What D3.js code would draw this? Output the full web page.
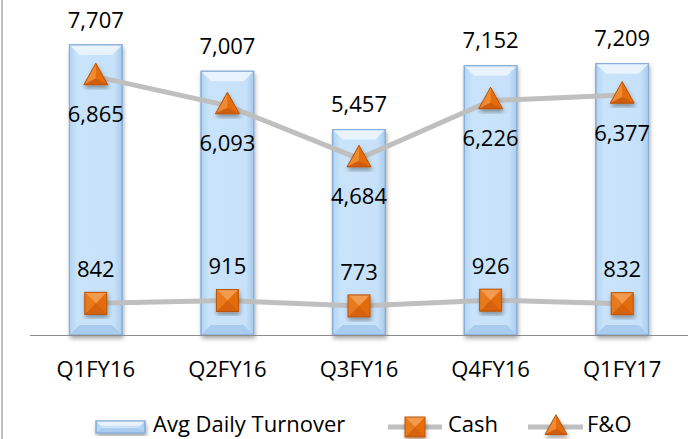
<!DOCTYPE html>
<html>
<head>
<meta charset="utf-8">
<script src="https://cdn.jsdelivr.net/npm/d3@7"></script>
<style>
  body { margin: 0; background: #fff; }
  svg { display: block; font-family: "Open Sans", sans-serif; }
</style>
</head>
<body>
<svg id="chart" width="688" height="439"></svg>
<script>
/* data */
const quarters = ["Q1FY16", "Q2FY16", "Q3FY16", "Q4FY16", "Q1FY17"]
const turnover = [7707, 7007, 5457, 7152, 7209]
const cash = [842, 915, 773, 926, 832]
const fno = [6865, 6093, 4684, 6226, 6377]

const svg = d3.select("#chart")
const W = 688, H = 439
const baseY = 335

const x = d3.scaleBand()
    .domain(quarters)
    .range([30, 688])
    .paddingInner(0.6)
    .paddingOuter(0.3)

const y = d3.scaleLinear()
    .domain([0, 8900])
    .range([baseY, 0])

const fmt = d3.format(",")
const orange = "#e46c0a"

/* defs: gradients and shadows */
const defs = svg.append("defs")

const barGrad = defs.append("linearGradient").attr("id", "barGrad")
    .attr("x1", 0).attr("x2", 1).attr("y1", 0).attr("y2", 0)
barGrad.append("stop").attr("offset", "0%").attr("stop-color", "#b3d4f2")
barGrad.append("stop").attr("offset", "15%").attr("stop-color", "#c9e3fa")
barGrad.append("stop").attr("offset", "85%").attr("stop-color", "#c6e1f9")
barGrad.append("stop").attr("offset", "100%").attr("stop-color", "#a9cbec")

const shadow = defs.append("filter").attr("id", "shadow")
    .attr("x", "-30%").attr("y", "-10%").attr("width", "160%").attr("height", "130%")
shadow.append("feDropShadow").attr("dx", 1).attr("dy", 3).attr("stdDeviation", 2)
    .attr("flood-color", "#000").attr("flood-opacity", 0.35)

/* left border */
svg.append("line")
    .attr("x1", 2).attr("x2", 2).attr("y1", 0).attr("y2", H)
    .attr("stroke", "#bfbfbf").attr("stroke-width", 2)

/* bars */
function drawBar(g, x0, y0, w, h) {
    const b = Math.min(10, w / 5, h / 2.5)
    g.append("rect")
        .attr("x", x0).attr("y", y0).attr("width", w).attr("height", h)
        .attr("fill", "url(#barGrad)")
        .attr("stroke", "#8eb4de").attr("stroke-width", 1)
        .attr("filter", "url(#shadow)")
    // top bevel
    g.append("path")
        .attr("d", `M${x0},${y0}L${x0 + w},${y0}L${x0 + w - b},${y0 + b}L${x0 + b},${y0 + b}Z`)
        .attr("fill", "#e8f3fd")
    // bottom bevel
    g.append("path")
        .attr("d", `M${x0},${y0 + h}L${x0 + w},${y0 + h}L${x0 + w - b},${y0 + h - b}L${x0 + b},${y0 + h - b}Z`)
        .attr("fill", "#a8cbee")
    g.append("rect")
        .attr("x", x0).attr("y", y0).attr("width", w).attr("height", h)
        .attr("fill", "none")
        .attr("stroke", "#86acd8").attr("stroke-width", 1.2)
}

const bars = svg.append("g")
quarters.forEach((q, i) => {
    drawBar(bars.append("g"), x(q), y(turnover[i]), x.bandwidth(), baseY - y(turnover[i]))
})

/* axis baseline */
svg.append("line")
    .attr("x1", 30).attr("x2", W).attr("y1", baseY + 0.5).attr("y2", baseY + 0.5)
    .attr("stroke", "#8c8c8c").attr("stroke-width", 1)

/* category labels */
const xAxis = svg.append("g")
    .attr("transform", `translate(0,${baseY})`)
    .call(d3.axisBottom(x).tickSize(0).tickPadding(26))
xAxis.select(".domain").remove()
xAxis.selectAll("text")
    .attr("font-size", 22).attr("font-family", "Open Sans").attr("fill", "#000")

/* markers */
function square(g, cx, cy, s) {
    const h = s / 2
    const m = g.append("g").attr("filter", "url(#shadow)")
    m.append("rect").attr("x", cx - h).attr("y", cy - h).attr("width", s).attr("height", s).attr("fill", orange)
    m.append("path").attr("d", `M${cx - h},${cy - h}L${cx + h},${cy - h}L${cx},${cy}Z`).attr("fill", "#f29b4f")
    m.append("path").attr("d", `M${cx - h},${cy + h}L${cx + h},${cy + h}L${cx},${cy}Z`).attr("fill", "#d7620a")
    m.append("path").attr("d", `M${cx - h},${cy - h}L${cx - h},${cy + h}L${cx},${cy}Z`).attr("fill", "#e87a1e")
    m.append("rect").attr("x", cx - h).attr("y", cy - h).attr("width", s).attr("height", s)
        .attr("fill", "none").attr("stroke", "#b85207").attr("stroke-width", 1)
}

function triangle(g, cx, cy, s) {
    const h = s * 0.9
    const top = cy - h * 0.62, bot = cy + h * 0.38
    const m = g.append("g").attr("filter", "url(#shadow)")
    m.append("path").attr("d", `M${cx},${top}L${cx + s / 2},${bot}L${cx - s / 2},${bot}Z`).attr("fill", orange)
    m.append("path").attr("d", `M${cx},${top}L${cx - s / 2},${bot}L${cx},${cy + 2}Z`).attr("fill", "#ef8a33")
    m.append("path").attr("d", `M${cx - s / 2},${bot}L${cx + s / 2},${bot}L${cx},${cy + 2}Z`).attr("fill", "#cf5d08")
    m.append("path").attr("d", `M${cx},${top}L${cx + s / 2},${bot}L${cx - s / 2},${bot}Z`)
        .attr("fill", "none").attr("stroke", "#b85207").attr("stroke-width", 1)
}

const line = d3.line()
    .x((d, i) => x(quarters[i]) + x.bandwidth() / 2)
    .y(d => y(d))

function series(values, markerFn, size) {
    const g = svg.append("g")
    g.append("path").datum(values)
        .attr("d", line)
        .attr("fill", "none").attr("stroke", "#bfbfbf").attr("stroke-width", 5)
    values.forEach((v, i) => markerFn(g, x(quarters[i]) + x.bandwidth() / 2, y(v), size))
}

series(cash, square, 22)
series(fno, triangle, 24)

/* value labels */
const labels = svg.append("g")
    .attr("font-size", 22).attr("text-anchor", "middle").attr("fill", "#000")

labels.selectAll(".lt").data(turnover).enter().append("text")
    .attr("x", (d, i) => x(quarters[i]) + x.bandwidth() / 2)
    .attr("y", d => y(d) - 25)
    .attr("dy", "0.35em")
    .text(d => fmt(d))

labels.selectAll(".lf").data(fno).enter().append("text")
    .attr("x", (d, i) => x(quarters[i]) + x.bandwidth() / 2)
    .attr("y", d => y(d) + 38)
    .attr("dy", "0.35em")
    .text(d => fmt(d))

labels.selectAll(".lc").data(cash).enter().append("text")
    .attr("x", (d, i) => x(quarters[i]) + x.bandwidth() / 2)
    .attr("y", d => y(d) - 34)
    .attr("dy", "0.35em")
    .text(d => fmt(d))

/* legend */
const leg = svg.append("g").attr("font-size", 22).attr("fill", "#000")
const ly = 427, lb = 432
drawBar(leg.append("g"), 96, ly - 6, 49, 12)
leg.append("text").attr("x", 153).attr("y", lb).text("Avg Daily Turnover")

leg.append("line").attr("x1", 388).attr("x2", 442).attr("y1", ly).attr("y2", ly)
    .attr("stroke", "#bfbfbf").attr("stroke-width", 5)
square(leg, 415, ly, 20)
leg.append("text").attr("x", 448).attr("y", lb).text("Cash")

leg.append("line").attr("x1", 528).attr("x2", 583).attr("y1", ly).attr("y2", ly)
    .attr("stroke", "#bfbfbf").attr("stroke-width", 5)
triangle(leg, 556, ly, 22)
leg.append("text").attr("x", 587).attr("y", lb).text("F&O")
</script>
</body>
</html>
